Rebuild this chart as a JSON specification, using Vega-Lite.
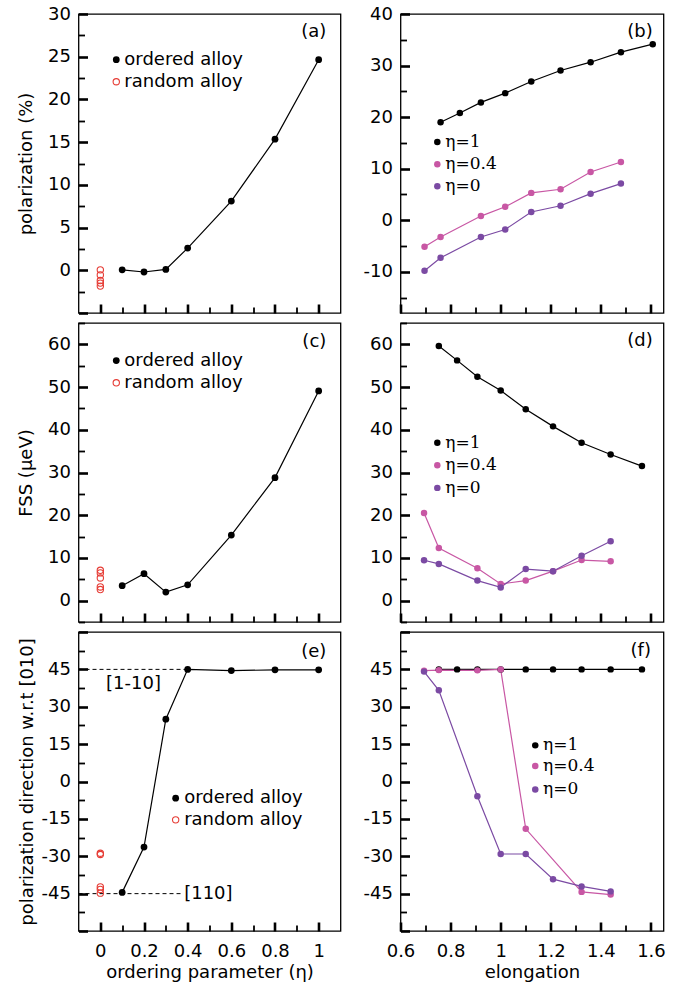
{
"$schema": "https://vega.github.io/schema/vega-lite/v6.json",
"padding": {"left": 16.5, "top": 4, "right": 2, "bottom": 1},
"background": "white",
"columns": 2,
"align": "each",
"spacing": {"row": 6, "column": 20},
"datasets": {
"a_ord": [{"x":0.1,"y":0.05},{"x":0.2,"y":-0.2},{"x":0.3,"y":0.1},{"x":0.4,"y":2.6},{"x":0.6,"y":8.1},{"x":0.8,"y":15.35},{"x":1,"y":24.65}],
"a_rnd": [{"x":0,"y":0.05},{"x":0,"y":-0.55},{"x":0,"y":-1.2},{"x":0,"y":-1.5},{"x":0,"y":-1.85}],
"c_ord": [{"x":0.1,"y":3.5},{"x":0.2,"y":6.3},{"x":0.3,"y":2.0},{"x":0.4,"y":3.7},{"x":0.6,"y":15.35},{"x":0.8,"y":28.8},{"x":1,"y":49.1}],
"c_rnd": [{"x":0,"y":7.1},{"x":0,"y":6.5},{"x":0,"y":5.3},{"x":0,"y":3.2},{"x":0,"y":2.6}],
"e_ord": [{"x":0.1,"y":-44.5},{"x":0.2,"y":-26.3},{"x":0.3,"y":25.0},{"x":0.4,"y":45},{"x":0.6,"y":44.5},{"x":0.8,"y":44.8},{"x":1,"y":44.8}],
"e_rnd": [{"x":0,"y":-28.8},{"x":0,"y":-29.3},{"x":0,"y":-42.3},{"x":0,"y":-43.3},{"x":0,"y":-44.8}],
"b": [
{"s":"eta1","x":0.76,"y":19.0},{"s":"eta1","x":0.837,"y":20.8},{"s":"eta1","x":0.921,"y":22.85},{"s":"eta1","x":1.018,"y":24.65},{"s":"eta1","x":1.122,"y":26.9},{"s":"eta1","x":1.239,"y":29.05},{"s":"eta1","x":1.359,"y":30.65},{"s":"eta1","x":1.48,"y":32.6},{"s":"eta1","x":1.607,"y":34.15},
{"s":"eta04","x":0.696,"y":-5.15},{"s":"eta04","x":0.76,"y":-3.25},{"s":"eta04","x":0.921,"y":0.8},{"s":"eta04","x":1.018,"y":2.6},{"s":"eta04","x":1.122,"y":5.3},{"s":"eta04","x":1.239,"y":6.0},{"s":"eta04","x":1.359,"y":9.35},{"s":"eta04","x":1.48,"y":11.3},
{"s":"eta0","x":0.696,"y":-9.8},{"s":"eta0","x":0.76,"y":-7.3},{"s":"eta0","x":0.921,"y":-3.25},{"s":"eta0","x":1.018,"y":-1.8},{"s":"eta0","x":1.122,"y":1.6},{"s":"eta0","x":1.239,"y":2.8},{"s":"eta0","x":1.359,"y":5.15},{"s":"eta0","x":1.48,"y":7.1}
],
"d": [
{"s":"eta1","x":0.753,"y":59.6},{"s":"eta1","x":0.826,"y":56.25},{"s":"eta1","x":0.907,"y":52.4},{"s":"eta1","x":1.0,"y":49.2},{"s":"eta1","x":1.1,"y":44.8},{"s":"eta1","x":1.209,"y":40.8},{"s":"eta1","x":1.323,"y":36.95},{"s":"eta1","x":1.439,"y":34.2},{"s":"eta1","x":1.564,"y":31.5},
{"s":"eta04","x":0.694,"y":20.5},{"s":"eta04","x":0.753,"y":12.3},{"s":"eta04","x":0.907,"y":7.6},{"s":"eta04","x":1.0,"y":3.9},{"s":"eta04","x":1.1,"y":4.7},{"s":"eta04","x":1.209,"y":6.9},{"s":"eta04","x":1.323,"y":9.5},{"s":"eta04","x":1.439,"y":9.2},
{"s":"eta0","x":0.694,"y":9.45},{"s":"eta0","x":0.753,"y":8.6},{"s":"eta0","x":0.907,"y":4.7},{"s":"eta0","x":1.0,"y":3.1},{"s":"eta0","x":1.1,"y":7.4},{"s":"eta0","x":1.209,"y":6.9},{"s":"eta0","x":1.323,"y":10.5},{"s":"eta0","x":1.439,"y":13.9}
],
"f": [
{"s":"eta1","x":0.753,"y":45},{"s":"eta1","x":0.826,"y":45},{"s":"eta1","x":0.907,"y":45},{"s":"eta1","x":1.0,"y":45},{"s":"eta1","x":1.1,"y":45},{"s":"eta1","x":1.209,"y":45},{"s":"eta1","x":1.323,"y":45},{"s":"eta1","x":1.439,"y":45},{"s":"eta1","x":1.564,"y":45},
{"s":"eta04","x":0.694,"y":44.5},{"s":"eta04","x":0.753,"y":44.7},{"s":"eta04","x":0.907,"y":44.6},{"s":"eta04","x":1.0,"y":45},{"s":"eta04","x":1.1,"y":-19.0},{"s":"eta04","x":1.323,"y":-44.3},{"s":"eta04","x":1.439,"y":-45.4},
{"s":"eta0","x":0.694,"y":44.1},{"s":"eta0","x":0.753,"y":36.6},{"s":"eta0","x":0.907,"y":-5.9},{"s":"eta0","x":1.0,"y":-29.1},{"s":"eta0","x":1.1,"y":-29.1},{"s":"eta0","x":1.209,"y":-39.2},{"s":"eta0","x":1.323,"y":-42.1},{"s":"eta0","x":1.439,"y":-44.1}
]
},
"concat": [
{
"width": 262, "height": 299,
"resolve": {"axis": {"x": "independent", "y": "independent"}},
"encoding": {
"x": {"field":"x","type":"quantitative","scale":{"domain":[-0.1,1.1],"nice":false,"zero":false},"axis":null},
"y": {"field":"y","type":"quantitative","scale":{"domain":[-5,30],"nice":false,"zero":false},"axis":null}
},
"layer": [
{"data":{"name":"a_ord"},"mark":{"type":"line","color":"black","strokeWidth":1.2},
"encoding":{
"x":{"field":"x","type":"quantitative","scale":{"domain":[-0.1,1.1],"nice":false,"zero":false},"axis":{"orient":"bottom","offset":-9,"tickSize":9,"tickWidth":2.6,"values":[0,0.2,0.4,0.6,0.8,1],"labels":false,"title":null}},
"y":{"field":"y","type":"quantitative","scale":{"domain":[-5,30],"nice":false,"zero":false},"axis":{"orient":"left","offset":-9,"tickSize":9,"tickWidth":2.6,"values":[-5,0,5,10,15,20,25,30],"labelExpr":"datum.value >= 0 ? toString(datum.value) : ''","labelFontSize":{"condition":{"test":"datum.value < 0","value":0},"value":18},"labelPadding":8,"title":"polarization (%)","titlePadding":12}}}},
{"data":{"name":"a_ord"},"mark":{"type":"point","filled":true,"color":"black","size":46,"opacity":1},
"encoding":{
"x":{"field":"x","type":"quantitative","scale":{"domain":[-0.1,1.1],"nice":false,"zero":false},"axis":{"orient":"bottom","offset":-6,"tickSize":6,"tickWidth":1.8,"values":[0.1,0.3,0.5,0.7,0.9],"labels":false,"title":null}},
"y":{"field":"y","type":"quantitative","scale":{"domain":[-5,30],"nice":false,"zero":false},"axis":{"orient":"left","offset":-6,"tickSize":6,"tickWidth":1.8,"values":[-2.5,2.5,7.5,12.5,17.5,22.5,27.5],"labels":false,"title":null}}}},
{"data":{"name":"a_rnd"},"mark":{"type":"point","filled":false,"color":"#e63c35","size":40,"strokeWidth":1.1,"opacity":1}},
{"data":{"values":[{"x":0.073,"y":24.65}]},"mark":{"type":"point","filled":true,"color":"black","size":46,"opacity":1}},
{"data":{"values":[{"x":0.073,"y":22.07}]},"mark":{"type":"point","filled":false,"color":"#e63c35","size":40,"strokeWidth":1.1,"opacity":1}},
{"data":{"values":[{"x":0.11,"y":24.65,"t":"ordered alloy"},{"x":0.11,"y":22.07,"t":"random alloy"}]},"mark":{"type":"text","align":"left","baseline":"middle"},"encoding":{"text":{"field":"t"}}},
{"data":{"values":[{"x":1.035,"y":27.85,"t":"(a)"}]},"mark":{"type":"text","align":"right","baseline":"middle"},"encoding":{"text":{"field":"t"}}}
]
},
{
"width": 263, "height": 299,
"resolve": {"axis": {"x": "independent", "y": "independent"}},
"encoding": {
"x": {"field":"x","type":"quantitative","scale":{"domain":[0.6,1.65],"nice":false,"zero":false},"axis":null},
"y": {"field":"y","type":"quantitative","scale":{"domain":[-18,40],"nice":false,"zero":false},"axis":null},
"color": {"field":"s","type":"nominal","scale":{"domain":["eta1","eta04","eta0"],"range":["#000000","#c857a4","#7b4aa3"]},"legend":null}
},
"layer": [
{"data":{"name":"b"},"mark":{"type":"line","strokeWidth":1.2},
"encoding":{
"x":{"field":"x","type":"quantitative","scale":{"domain":[0.6,1.65],"nice":false,"zero":false},"axis":{"orient":"bottom","offset":-9,"tickSize":9,"tickWidth":2.6,"values":[0.6,0.8,1,1.2,1.4,1.6],"labels":false,"title":null}},
"y":{"field":"y","type":"quantitative","scale":{"domain":[-18,40],"nice":false,"zero":false},"axis":{"orient":"left","offset":-9,"tickSize":9,"tickWidth":2.6,"values":[-10,0,10,20,30,40],"labelExpr":"toString(datum.value)","labelPadding":8,"title":null}}}},
{"data":{"name":"b"},"mark":{"type":"point","filled":true,"size":42,"opacity":1},
"encoding":{
"x":{"field":"x","type":"quantitative","scale":{"domain":[0.6,1.65],"nice":false,"zero":false},"axis":{"orient":"bottom","offset":-6,"tickSize":6,"tickWidth":1.8,"values":[0.7,0.9,1.1,1.3,1.5],"labels":false,"title":null}},
"y":{"field":"y","type":"quantitative","scale":{"domain":[-18,40],"nice":false,"zero":false},"axis":{"orient":"left","offset":-6,"tickSize":6,"tickWidth":1.8,"values":[-15,-5,5,15,25,35],"labels":false,"title":null}}}},
{"data":{"values":[{"x":0.747,"y":15.16,"s":"eta1"},{"x":0.747,"y":10.84,"s":"eta04"},{"x":0.747,"y":6.58,"s":"eta0"}]},"mark":{"type":"point","filled":true,"size":42,"opacity":1}},
{"data":{"values":[{"x":0.779,"y":15.16,"t":"η=1"},{"x":0.779,"y":10.84,"t":"η=0.4"},{"x":0.779,"y":6.58,"t":"η=0"}]},"mark":{"type":"text","align":"left","baseline":"middle","font":"DejaVu Serif","fontSize":17},"encoding":{"text":{"field":"t"},"color":{"value":"black"}}},
{"data":{"values":[{"x":1.607,"y":36.45,"t":"(b)"}]},"mark":{"type":"text","align":"right","baseline":"middle"},"encoding":{"text":{"field":"t"},"color":{"value":"black"}}}
]
},
{
"width": 262, "height": 299,
"resolve": {"axis": {"x": "independent", "y": "independent"}},
"encoding": {
"x": {"field":"x","type":"quantitative","scale":{"domain":[-0.1,1.1],"nice":false,"zero":false},"axis":null},
"y": {"field":"y","type":"quantitative","scale":{"domain":[-5,65],"nice":false,"zero":false},"axis":null}
},
"layer": [
{"data":{"name":"c_ord"},"mark":{"type":"line","color":"black","strokeWidth":1.2},
"encoding":{
"x":{"field":"x","type":"quantitative","scale":{"domain":[-0.1,1.1],"nice":false,"zero":false},"axis":{"orient":"bottom","offset":-9,"tickSize":9,"tickWidth":2.6,"values":[0,0.2,0.4,0.6,0.8,1],"labels":false,"title":null}},
"y":{"field":"y","type":"quantitative","scale":{"domain":[-5,65],"nice":false,"zero":false},"axis":{"orient":"left","offset":-9,"tickSize":9,"tickWidth":2.6,"values":[0,10,20,30,40,50,60],"labelExpr":"toString(datum.value)","labelPadding":8,"title":"FSS (μeV)","titlePadding":12}}}},
{"data":{"name":"c_ord"},"mark":{"type":"point","filled":true,"color":"black","size":46,"opacity":1},
"encoding":{
"x":{"field":"x","type":"quantitative","scale":{"domain":[-0.1,1.1],"nice":false,"zero":false},"axis":{"orient":"bottom","offset":-6,"tickSize":6,"tickWidth":1.8,"values":[0.1,0.3,0.5,0.7,0.9],"labels":false,"title":null}},
"y":{"field":"y","type":"quantitative","scale":{"domain":[-5,65],"nice":false,"zero":false},"axis":{"orient":"left","offset":-6,"tickSize":6,"tickWidth":1.8,"values":[-5,5,15,25,35,45,55,65],"labels":false,"title":null}}}},
{"data":{"name":"c_rnd"},"mark":{"type":"point","filled":false,"color":"#e63c35","size":40,"strokeWidth":1.1,"opacity":1}},
{"data":{"values":[{"x":0.073,"y":56.2}]},"mark":{"type":"point","filled":true,"color":"black","size":46,"opacity":1}},
{"data":{"values":[{"x":0.073,"y":51.0}]},"mark":{"type":"point","filled":false,"color":"#e63c35","size":40,"strokeWidth":1.1,"opacity":1}},
{"data":{"values":[{"x":0.11,"y":56.2,"t":"ordered alloy"},{"x":0.11,"y":51.0,"t":"random alloy"}]},"mark":{"type":"text","align":"left","baseline":"middle"},"encoding":{"text":{"field":"t"}}},
{"data":{"values":[{"x":1.035,"y":60.6,"t":"(c)"}]},"mark":{"type":"text","align":"right","baseline":"middle"},"encoding":{"text":{"field":"t"}}}
]
},
{
"width": 263, "height": 299,
"resolve": {"axis": {"x": "independent", "y": "independent"}},
"encoding": {
"x": {"field":"x","type":"quantitative","scale":{"domain":[0.6,1.65],"nice":false,"zero":false},"axis":null},
"y": {"field":"y","type":"quantitative","scale":{"domain":[-5,65],"nice":false,"zero":false},"axis":null},
"color": {"field":"s","type":"nominal","scale":{"domain":["eta1","eta04","eta0"],"range":["#000000","#c857a4","#7b4aa3"]},"legend":null}
},
"layer": [
{"data":{"name":"d"},"mark":{"type":"line","strokeWidth":1.2},
"encoding":{
"x":{"field":"x","type":"quantitative","scale":{"domain":[0.6,1.65],"nice":false,"zero":false},"axis":{"orient":"bottom","offset":-9,"tickSize":9,"tickWidth":2.6,"values":[0.6,0.8,1,1.2,1.4,1.6],"labels":false,"title":null}},
"y":{"field":"y","type":"quantitative","scale":{"domain":[-5,65],"nice":false,"zero":false},"axis":{"orient":"left","offset":-9,"tickSize":9,"tickWidth":2.6,"values":[0,10,20,30,40,50,60],"labelExpr":"toString(datum.value)","labelPadding":8,"title":null}}}},
{"data":{"name":"d"},"mark":{"type":"point","filled":true,"size":42,"opacity":1},
"encoding":{
"x":{"field":"x","type":"quantitative","scale":{"domain":[0.6,1.65],"nice":false,"zero":false},"axis":{"orient":"bottom","offset":-6,"tickSize":6,"tickWidth":1.8,"values":[0.7,0.9,1.1,1.3,1.5],"labels":false,"title":null}},
"y":{"field":"y","type":"quantitative","scale":{"domain":[-5,65],"nice":false,"zero":false},"axis":{"orient":"left","offset":-6,"tickSize":6,"tickWidth":1.8,"values":[-5,5,15,25,35,45,55,65],"labels":false,"title":null}}}},
{"data":{"values":[{"x":0.747,"y":36.95,"s":"eta1"},{"x":0.747,"y":31.7,"s":"eta04"},{"x":0.747,"y":26.4,"s":"eta0"}]},"mark":{"type":"point","filled":true,"size":42,"opacity":1}},
{"data":{"values":[{"x":0.779,"y":36.95,"t":"η=1"},{"x":0.779,"y":31.7,"t":"η=0.4"},{"x":0.779,"y":26.4,"t":"η=0"}]},"mark":{"type":"text","align":"left","baseline":"middle","font":"DejaVu Serif","fontSize":17},"encoding":{"text":{"field":"t"},"color":{"value":"black"}}},
{"data":{"values":[{"x":1.607,"y":60.8,"t":"(d)"}]},"mark":{"type":"text","align":"right","baseline":"middle"},"encoding":{"text":{"field":"t"},"color":{"value":"black"}}}
]
},
{
"width": 262, "height": 299,
"resolve": {"axis": {"x": "independent", "y": "independent"}},
"encoding": {
"x": {"field":"x","type":"quantitative","scale":{"domain":[-0.1,1.1],"nice":false,"zero":false},"axis":null},
"y": {"field":"y","type":"quantitative","scale":{"domain":[-60,60],"nice":false,"zero":false},"axis":null}
},
"layer": [
{"data":{"values":[{"x":-0.1,"x2":0.4,"y":45},{"x":-0.1,"x2":0.37,"y":-45}]},"mark":{"type":"rule","color":"black","strokeWidth":1,"strokeDash":[4,3]},"encoding":{"x2":{"field":"x2"}}},
{"data":{"name":"e_ord"},"mark":{"type":"line","color":"black","strokeWidth":1.2},
"encoding":{
"x":{"field":"x","type":"quantitative","scale":{"domain":[-0.1,1.1],"nice":false,"zero":false},"axis":{"orient":"bottom","offset":-9,"tickSize":9,"tickWidth":2.6,"values":[0,0.2,0.4,0.6,0.8,1],"labelExpr":"toString(datum.value)","labelPadding":11,"labelFlush":false,"title":"ordering parameter (η)","titlePadding":3}},
"y":{"field":"y","type":"quantitative","scale":{"domain":[-60,60],"nice":false,"zero":false},"axis":{"orient":"left","offset":-9,"tickSize":9,"tickWidth":2.6,"values":[-60,-45,-30,-15,0,15,30,45,60],"labelExpr":"abs(datum.value) <= 45 ? toString(datum.value) : ''","labelFontSize":{"condition":{"test":"abs(datum.value) > 45","value":0},"value":18},"labelPadding":8,"title":"polarization direction w.r.t [010]","titlePadding":4.5}}}},
{"data":{"name":"e_ord"},"mark":{"type":"point","filled":true,"color":"black","size":46,"opacity":1},
"encoding":{
"x":{"field":"x","type":"quantitative","scale":{"domain":[-0.1,1.1],"nice":false,"zero":false},"axis":{"orient":"bottom","offset":-6,"tickSize":6,"tickWidth":1.8,"values":[0.1,0.3,0.5,0.7,0.9],"labels":false,"title":null}},
"y":{"field":"y","type":"quantitative","scale":{"domain":[-60,60],"nice":false,"zero":false},"axis":{"orient":"left","offset":-6,"tickSize":6,"tickWidth":1.8,"values":[-52.5,-37.5,-22.5,-7.5,7.5,22.5,37.5,52.5],"labels":false,"title":null}}}},
{"data":{"name":"e_rnd"},"mark":{"type":"point","filled":false,"color":"#e63c35","size":40,"strokeWidth":1.1,"opacity":1}},
{"data":{"values":[{"x":0.345,"y":-6.7}]},"mark":{"type":"point","filled":true,"color":"black","size":46,"opacity":1}},
{"data":{"values":[{"x":0.345,"y":-15.4}]},"mark":{"type":"point","filled":false,"color":"#e63c35","size":40,"strokeWidth":1.1,"opacity":1}},
{"data":{"values":[{"x":0.384,"y":-6.7,"t":"ordered alloy"},{"x":0.384,"y":-15.4,"t":"random alloy"},{"x":0.026,"y":39.1,"t":"[1-10]"},{"x":0.384,"y":-45,"t":"[110]"}]},"mark":{"type":"text","align":"left","baseline":"middle"},"encoding":{"text":{"field":"t"}}},
{"data":{"values":[{"x":1.035,"y":52.1,"t":"(e)"}]},"mark":{"type":"text","align":"right","baseline":"middle"},"encoding":{"text":{"field":"t"}}}
]
},
{
"width": 263, "height": 299,
"resolve": {"axis": {"x": "independent", "y": "independent"}},
"encoding": {
"x": {"field":"x","type":"quantitative","scale":{"domain":[0.6,1.65],"nice":false,"zero":false},"axis":null},
"y": {"field":"y","type":"quantitative","scale":{"domain":[-60,60],"nice":false,"zero":false},"axis":null},
"color": {"field":"s","type":"nominal","scale":{"domain":["eta1","eta04","eta0"],"range":["#000000","#c857a4","#7b4aa3"]},"legend":null}
},
"layer": [
{"data":{"name":"f"},"mark":{"type":"line","strokeWidth":1.2},
"encoding":{
"x":{"field":"x","type":"quantitative","scale":{"domain":[0.6,1.65],"nice":false,"zero":false},"axis":{"orient":"bottom","offset":-9,"tickSize":9,"tickWidth":2.6,"values":[0.6,0.8,1,1.2,1.4,1.6],"labelExpr":"toString(datum.value)","labelPadding":11,"labelFlush":false,"title":"elongation","titlePadding":3}},
"y":{"field":"y","type":"quantitative","scale":{"domain":[-60,60],"nice":false,"zero":false},"axis":{"orient":"left","offset":-9,"tickSize":9,"tickWidth":2.6,"values":[-60,-45,-30,-15,0,15,30,45,60],"labelExpr":"abs(datum.value) <= 45 ? toString(datum.value) : ''","labelFontSize":{"condition":{"test":"abs(datum.value) > 45","value":0},"value":18},"labelPadding":8,"title":null}}}},
{"data":{"name":"f"},"mark":{"type":"point","filled":true,"size":42,"opacity":1},
"encoding":{
"x":{"field":"x","type":"quantitative","scale":{"domain":[0.6,1.65],"nice":false,"zero":false},"axis":{"orient":"bottom","offset":-6,"tickSize":6,"tickWidth":1.8,"values":[0.7,0.9,1.1,1.3,1.5],"labels":false,"title":null}},
"y":{"field":"y","type":"quantitative","scale":{"domain":[-60,60],"nice":false,"zero":false},"axis":{"orient":"left","offset":-6,"tickSize":6,"tickWidth":1.8,"values":[-52.5,-37.5,-22.5,-7.5,7.5,22.5,37.5,52.5],"labels":false,"title":null}}}},
{"data":{"values":[{"x":1.138,"y":14.5,"s":"eta1"},{"x":1.138,"y":6.2,"s":"eta04"},{"x":1.138,"y":-3.2,"s":"eta0"}]},"mark":{"type":"point","filled":true,"size":42,"opacity":1}},
{"data":{"values":[{"x":1.169,"y":14.5,"t":"η=1"},{"x":1.169,"y":6.2,"t":"η=0.4"},{"x":1.169,"y":-3.2,"t":"η=0"}]},"mark":{"type":"text","align":"left","baseline":"middle","font":"DejaVu Serif","fontSize":17},"encoding":{"text":{"field":"t"},"color":{"value":"black"}}},
{"data":{"values":[{"x":1.6,"y":52.4,"t":"(f)"}]},"mark":{"type":"text","align":"right","baseline":"middle"},"encoding":{"text":{"field":"t"},"color":{"value":"black"}}}
]
}
],
"config": {
"view": {"stroke": "black", "strokeWidth": 1.3},
"font": "DejaVu Sans",
"axis": {"labelFont": "DejaVu Sans", "labelFontSize": 18, "labelColor": "black", "titleFont": "DejaVu Sans", "titleFontSize": 18, "titleFontWeight": "normal", "titleColor": "black", "tickColor": "black", "domain": false, "grid": false, "labelOverlap": false},
"text": {"font": "DejaVu Sans", "fontSize": 18, "color": "black"}
}
}
